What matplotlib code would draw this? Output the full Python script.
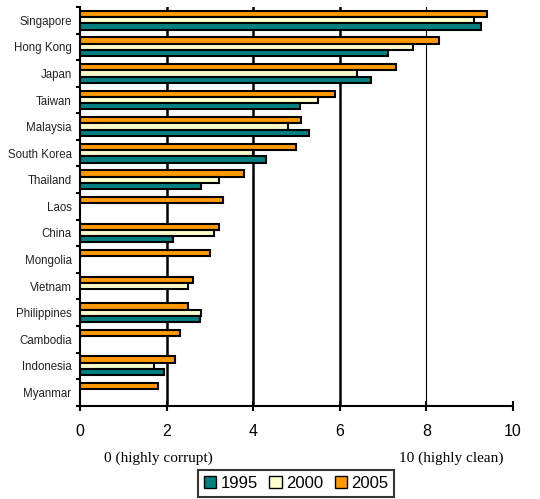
import numpy as np
import matplotlib
matplotlib.use("Agg")
import matplotlib.pyplot as plt
from matplotlib.patches import Patch

plt.rcParams['font.family'] = ['Liberation Sans', 'DejaVu Sans']

countries = ['Singapore', 'Hong Kong', 'Japan', 'Taiwan', 'Malaysia', 'South Korea',
             'Thailand', 'Laos', 'China', 'Mongolia', 'Vietnam', 'Philippines',
             'Cambodia', 'Indonesia', 'Myanmar']
cpi_1995 = [9.26, 7.12, 6.72, 5.08, 5.28, 4.29, 2.79, np.nan, 2.16, np.nan,
            np.nan, 2.77, np.nan, 1.94, np.nan]
cpi_2000 = [9.1, 7.7, 6.4, 5.5, 4.8, 4.0, 3.2, np.nan, 3.1, np.nan,
            2.5, 2.8, np.nan, 1.7, np.nan]
cpi_2005 = [9.4, 8.3, 7.3, 5.9, 5.1, 5.0, 3.8, 3.3, 3.2, 3.0,
            2.6, 2.5, 2.3, 2.2, 1.8]
years = ['1995', '2000', '2005']
colors = ['#008080', '#FFFFCC', '#FF9900']

fig = plt.figure(figsize=(5.4, 4.99), dpi=100)
ax = fig.add_axes([0.148, 0.187, 0.802, 0.799])

y = np.arange(len(countries))
h = 0.235
# vertical gridlines (2,4,6 look heavier in the original)
for gx, lw in [(2, 1.8), (4, 1.8), (6, 1.8), (8, 0.8)]:
    ax.axvline(gx, color='black', lw=lw, zorder=0)

for vals, off, col in [(cpi_2005, -h, colors[2]), (cpi_2000, 0, colors[1]), (cpi_1995, h, colors[0])]:
    v = np.array(vals, dtype=float)
    m = ~np.isnan(v)
    ax.barh(y[m] + off, v[m], height=h, color=col, edgecolor='black', linewidth=1.5, zorder=2)

ax.set_xlim(0, 10)
ax.set_ylim(len(countries) - 0.5, -0.5)
ax.set_xticks(np.arange(0, 11, 2))
ax.set_yticks(y)
ax.set_yticklabels(countries, fontsize=8.3, color='#222222')
ax.set_yticks(np.arange(-0.5, len(countries), 1), minor=True)
ax.tick_params(axis='y', which='major', length=0, pad=6)
ax.tick_params(axis='y', which='minor', length=3, width=1.5, direction='out')
ax.tick_params(axis='x', which='major', direction='inout', length=7, width=1.5, pad=10, labelsize=11.5)
for s in ['top', 'right']:
    ax.spines[s].set_visible(False)
ax.spines['left'].set_linewidth(1.5)
ax.spines['bottom'].set_linewidth(1.5)

fig.text(158 / 540, 1 - 458 / 499, '0 (highly corrupt)', family=['Liberation Serif', 'DejaVu Serif'],
         fontsize=11, ha='center', va='center')
fig.text(451 / 540, 1 - 458 / 499, '10 (highly clean)', family=['Liberation Serif', 'DejaVu Serif'],
         fontsize=11, ha='center', va='center')

handles = [Patch(facecolor=c, edgecolor='black', linewidth=1.0) for c in colors]
leg = fig.legend(handles, years, loc='upper center', bbox_to_anchor=(296 / 540, 1 - 470 / 499),
                 ncol=3, fontsize=12, frameon=True, fancybox=False, handlelength=0.75,
                 handleheight=0.75, handletextpad=0.25, columnspacing=0.7, borderpad=0.35,
                 borderaxespad=0)
leg.get_frame().set_edgecolor('black')
leg.get_frame().set_linewidth(1.5)

fig.savefig('out.png', dpi=100)
